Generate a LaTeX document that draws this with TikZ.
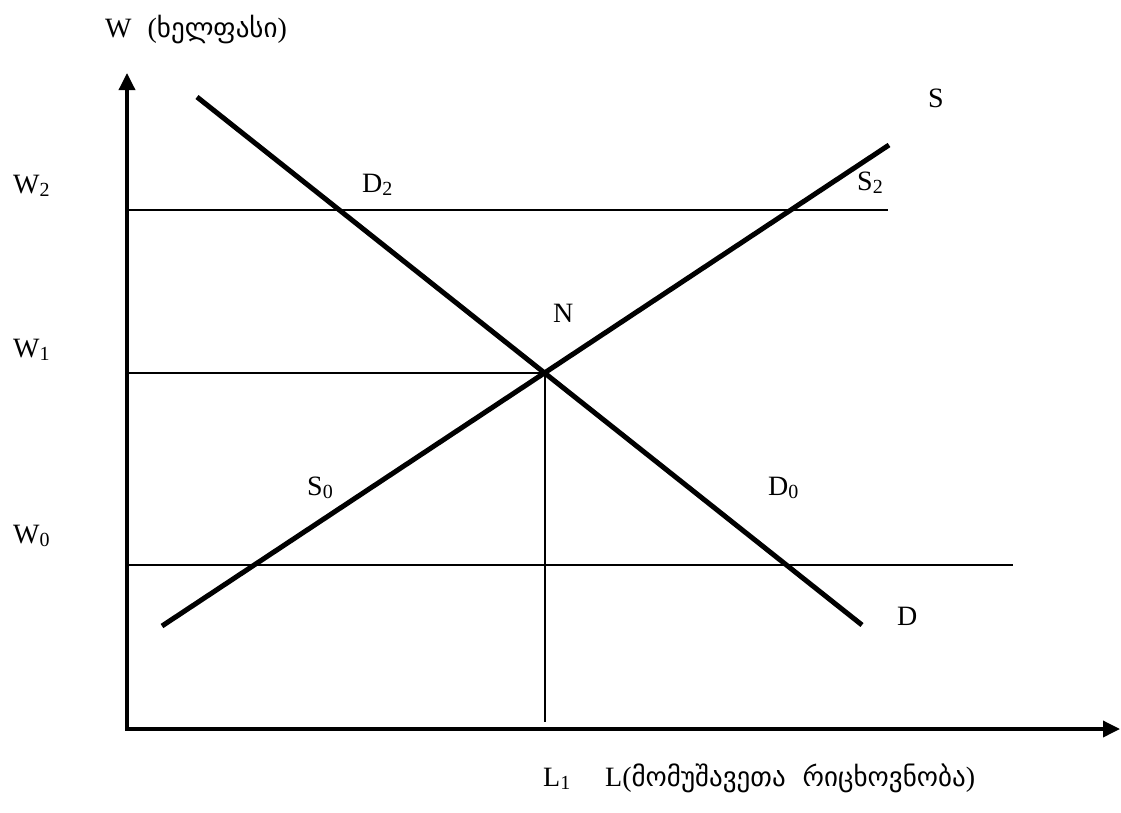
\documentclass[tikz,border=0pt]{standalone}
\usepackage{fontspec}
\setmainfont{Liberation Serif}
\newfontfamily\geo{DejaVu Sans}
\usetikzlibrary{arrows.meta}
\newcommand{\lowidx}[1]{\raisebox{-0.3ex}{\fontsize{20}{24}\selectfont #1}}
\newcommand{\geotxt}[1]{{\geo\fontsize{27}{32}\selectfont #1}}

\begin{document}
\begin{tikzpicture}[x=1pt, y=-1pt,
          lbl/.style={anchor=base west, inner sep=0pt, font=\fontsize{28}{32}\selectfont},
          ax/.style={line width=3.5pt, {Triangle[length=17pt,width=16pt]}-{Triangle[length=17pt,width=16pt]}},
          crv/.style={line width=5pt},
          lvl/.style={line width=2.5pt}]
        \useasboundingbox (0,0) rectangle (1121,812);
        % axes
        \coordinate (O) at (127,729);
        \coordinate (ytop) at (127,73);
        \coordinate (xend) at (1120,729);
        \draw[ax] (ytop) -- (O) -- (xend);
        % demand and supply
        \coordinate (d1) at (197,97);
        \coordinate (d2) at (862,625);
        \coordinate (s1) at (162,626);
        \coordinate (s2) at (889,145);
        \coordinate (N) at (545,373);
        \draw[crv] (d1) -- (d2);
        \draw[crv] (s1) -- (s2);
        % wage levels
        \coordinate (w2a) at (127,210);
        \coordinate (w2b) at (888,210);
        \coordinate (w1a) at (127,373);
        \coordinate (w0a) at (127,565);
        \coordinate (w0b) at (1013,565);
        \coordinate (l1) at (545,722);
        \draw[lvl] (w2a) -- (w2b);
        \draw[lvl] (w1a) -- (N);
        \draw[lvl] (w0a) -- (w0b);
        \draw[lvl] (N) -- (l1);
        % labels
        \node[lbl] (wt) at (105,37) {W\hspace{16pt}(\geotxt{ხელფასი})};
        \node[lbl] (w2) at (13,193) {W\lowidx{2}};
        \node[lbl] (w1) at (13,357) {W\lowidx{1}};
        \node[lbl] (w0) at (13,543) {W\lowidx{0}};
        \node[lbl] (dd2) at (362,192) {D\lowidx{2}};
        \node[lbl] (ss2) at (857,190) {S\lowidx{2}};
        \node[lbl] (ss) at (928,107) {S};
        \node[lbl] (nn) at (553,322) {N};
        \node[lbl] (ss0) at (307,495) {S\lowidx{0}};
        \node[lbl] (dd0) at (768,495) {D\lowidx{0}};
        \node[lbl] (dd) at (897,625) {D};
        \node[lbl] (ll1) at (543,786) {L\lowidx{1}};
        \node[lbl] (ll) at (605,786) {L(\geotxt{მომუშავეთა\hspace{17pt}რიცხოვნობა})};
      \end{tikzpicture}
\end{document}
